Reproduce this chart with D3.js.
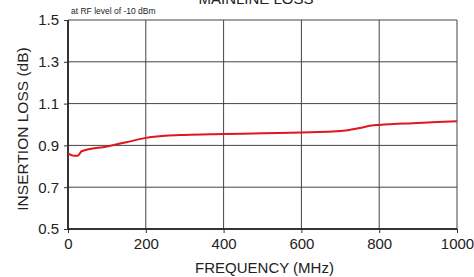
<!DOCTYPE html>
<html>
<head>
<meta charset="utf-8">
<script src="https://cdn.jsdelivr.net/npm/d3@7"></script>
<style>
  body { margin: 0; background: #fff; }
  text { font-family: "Liberation Sans", Arial, sans-serif; fill: #222; }
  .grid line { stroke: #444; stroke-width: 1; }
  .axis path { display: none; }
  .axis line { stroke: #333; }
</style>
</head>
<body>
<div id="chart"></div>
<script>
// frequency (MHz) and insertion loss (dB)
var freq = [0, 15, 25, 35, 100, 150, 200, 250, 300, 400, 500, 600, 680, 720, 750, 780, 800, 900, 1000];
var loss = [0.862, 0.850, 0.850, 0.872, 0.895, 0.915, 0.936, 0.946, 0.950, 0.954, 0.958, 0.962, 0.966, 0.973, 0.983, 0.995, 0.998, 1.007, 1.016];
var xTicks = [0, 200, 400, 600, 800, 1000];
var yTicks = [0.5, 0.7, 0.9, 1.1, 1.3, 1.5];

var W = 474, H = 277;
var margin = {top: 20, right: 17, bottom: 48, left: 68},
    width = W - margin.left - margin.right,
    height = H - margin.top - margin.bottom;

var svg = d3.select("#chart").append("svg")
    .attr("width", W).attr("height", H)
  .append("g")
    .attr("transform", "translate(" + margin.left + "," + margin.top + ")");

var x = d3.scaleLinear().domain([0, 1000]).range([0, width]);
var y = d3.scaleLinear().domain([0.5, 1.5]).range([height, 0]);

// grid
var grid = svg.append("g").attr("class", "grid");
grid.selectAll("line.h").data(yTicks).enter().append("line")
    .attr("x1", 0).attr("x2", width)
    .attr("y1", function(d){ return y(d); }).attr("y2", function(d){ return y(d); });
grid.selectAll("line.v").data(xTicks).enter().append("line")
    .attr("y1", 0).attr("y2", height)
    .attr("x1", function(d){ return x(d); }).attr("x2", function(d){ return x(d); });

// frame left + bottom
svg.append("line").attr("x1", 0).attr("x2", 0).attr("y1", 0).attr("y2", height)
    .attr("stroke", "#111").attr("stroke-width", 1.5);
svg.append("line").attr("x1", 0).attr("x2", width).attr("y1", height).attr("y2", height)
    .attr("stroke", "#111").attr("stroke-width", 1.5);

// axes
svg.append("g").attr("class", "axis")
    .attr("transform", "translate(0," + height + ")")
    .call(d3.axisBottom(x).tickValues(xTicks).tickSize(4).tickPadding(5).tickFormat(d3.format("d")))
    .selectAll("text").style("font-size", "15px");
svg.append("g").attr("class", "axis")
    .call(d3.axisLeft(y).tickValues(yTicks).tickSize(4).tickPadding(5).tickFormat(d3.format(".1f")))
    .selectAll("text").style("font-size", "15px");

// line
var line = d3.line()
    .x(function(d, i){ return x(freq[i]); })
    .y(function(d){ return y(d); })
    .curve(d3.curveMonotoneX);
svg.append("path")
    .datum(loss)
    .attr("fill", "none")
    .attr("stroke", "#e0161c")
    .attr("stroke-width", 2)
    .attr("d", line);

// labels
svg.append("text")
    .attr("x", 3).attr("y", -6)
    .style("font-size", "8.5px")
    .text("at RF level of -10 dBm");

svg.append("text")
    .attr("x", 188).attr("y", -16)
    .style("text-anchor", "middle").style("font-size", "15px")
    .text("MAINLINE LOSS");

svg.append("text")
    .attr("x", 196.5).attr("y", height + 44)
    .style("text-anchor", "middle").style("font-size", "15px")
    .text("FREQUENCY (MHz)");

svg.append("text")
    .attr("transform", "rotate(-90)")
    .attr("x", -109).attr("y", -40)
    .style("text-anchor", "middle").style("font-size", "15.5px")
    .text("INSERTION LOSS (dB)");
</script>
</body>
</html>
